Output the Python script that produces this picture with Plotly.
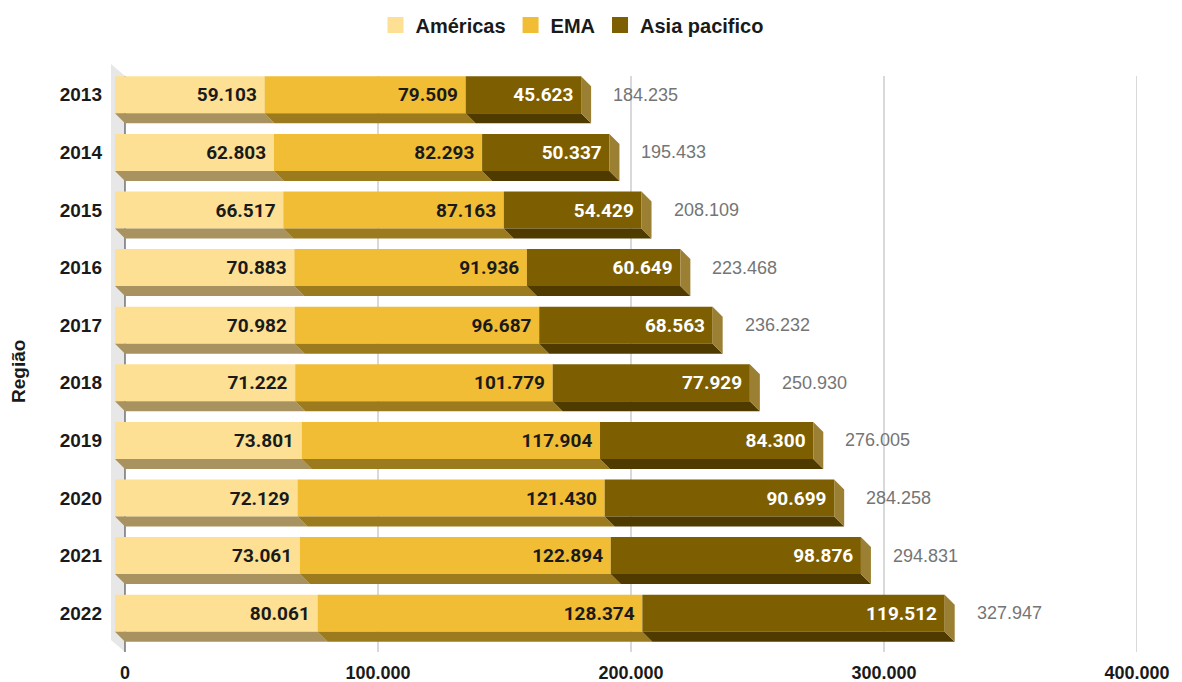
import plotly.graph_objects as go

# ---------------- data ----------------
years = ["2013", "2014", "2015", "2016", "2017", "2018", "2019", "2020", "2021", "2022"]
americas = [59103, 62803, 66517, 70883, 70982, 71222, 73801, 72129, 73061, 80061]
ema = [79509, 82293, 87163, 91936, 96687, 101779, 117904, 121430, 122894, 128374]
asia = [45623, 50337, 54429, 60649, 68563, 77929, 84300, 90699, 98876, 119512]
series_names = ["Américas", "EMA", "Asia pacifico"]
x_ticks = [0, 100000, 200000, 300000, 400000]
y_title = "Região"

# ---------------- style ----------------
front_colors = ["#FDE093", "#F0BD35", "#7D5E00"]
bottom_colors = ["#A8925F", "#9C7B1F", "#4F3B00"]
side_color = "#9B7F33"
label_colors = ["#1a1a1a", "#1a1a1a", "#ffffff"]

W, H = 1182, 682
PL, PR, PT, PB = 111, 1137, 64, 652          # plot area in pixels
X0PX = 125                                    # pixel of x = 0 (back plane)
XMAX = 400000
UX = XMAX / (PR - X0PX)                       # data units per pixel (x)
N = len(years)
PITCH = (PB - 76) / N                         # pixels per category
UY = 1 / PITCH                                # category units per pixel
DX, DY = 10 * UX, 10 * UY                     # 3D depth offset
HALF = 18.5 * UY                              # half bar thickness
ARIAL = "Liberation Sans, Arial, sans-serif"

def fmt(v):
    return f"{v:,}".replace(",", ".")

series = [americas, ema, asia]
idx = list(range(N))
starts = []
acc = [0] * N
for s in series:
    starts.append(list(acc))
    acc = [a + v for a, v in zip(acc, s)]
totals = acc

fig = go.Figure()

# depth faces (bottom of each segment, right side of last one)
for j, s in enumerate(series):
    px, py = [], []
    for i in idx:
        b, e = starts[j][i], starts[j][i] + s[i]
        cf, cb = i - DY, i
        px += [b - DX, e - DX, e, b, b - DX, None]
        py += [cf + HALF, cf + HALF, cb + HALF, cb + HALF, cf + HALF, None]
    fig.add_trace(go.Scatter(x=px, y=py, mode="lines", fill="toself",
                             fillcolor=bottom_colors[j], line=dict(width=0),
                             hoverinfo="skip", showlegend=False))
px, py = [], []
for i in idx:
    e = totals[i]
    cf, cb = i - DY, i
    px += [e - DX, e, e, e - DX, e - DX, None]
    py += [cf - HALF, cb - HALF, cb + HALF, cf + HALF, cf - HALF, None]
fig.add_trace(go.Scatter(x=px, y=py, mode="lines", fill="toself",
                         fillcolor=side_color, line=dict(width=0),
                         hoverinfo="skip", showlegend=False))

# front faces
for j, s in enumerate(series):
    fig.add_trace(go.Bar(
        name=series_names[j], orientation="h",
        y=[i - DY for i in idx], x=s,
        base=[st - DX for st in starts[j]],
        width=2 * HALF,
        marker=dict(color=front_colors[j], line=dict(width=0)),
        text=[fmt(v) + "\u00a0" for v in s], texttemplate="%{text}",
        textposition="inside", insidetextanchor="end", textangle=0,
        textfont=dict(family="Roboto", size=19, weight="bold", color=label_colors[j]),
        hoverinfo="skip", showlegend=False,
    ))

# legend entries (larger square swatches)
for j in range(len(series)):
    fig.add_trace(go.Scatter(
        x=[None], y=[None], mode="markers", name=series_names[j],
        marker=dict(symbol="square", size=16, color=front_colors[j], line=dict(width=0)),
        hoverinfo="skip",
    ))

# totals
for i in idx:
    fig.add_annotation(x=totals[i], y=i - DY, text=fmt(totals[i]), showarrow=False,
                       xanchor="left", yanchor="middle", xshift=20,
                       font=dict(family=ARIAL, size=18, color="#757575"))

# y axis title
fig.add_annotation(xref="paper", yref="paper", x=(18 - PL) / (PR - PL),
                   y=(PB - 372) / (PB - PT), text=y_title, textangle=-90,
                   showarrow=False, xanchor="center", yanchor="middle",
                   font=dict(family=ARIAL, size=19, weight="bold", color="#1a1a1a"))

shapes = []
# left wall
shapes.append(dict(type="path", layer="below", xref="x", yref="y",
                   path=f"M {-14*UX},{-0.5-12*UY} L 0,-0.5 L 0,{N-0.5} L {-14*UX},{N-0.5-12*UY} Z",
                   fillcolor="#e7e7e7", line=dict(width=0)))
for t in x_ticks:
    shapes.append(dict(type="line", layer="below", xref="x", yref="y",
                       x0=t, x1=t, y0=-0.5, y1=N - 0.5,
                       line=dict(color="#333333" if t == 0 else "#cccccc",
                                 width=1 if t == 0 else 1.5)))

fig.update_layout(
    width=W, height=H,
    margin=dict(l=PL, r=W - PR, t=PT, b=H - PB, pad=0, autoexpand=False),
    paper_bgcolor="white", plot_bgcolor="white",
    barmode="overlay", separators=",.", hovermode=False,
    shapes=shapes,
    showlegend=True,
    legend=dict(orientation="h", x=(572 - PL) / (PR - PL), xanchor="center",
                y=1 + (PT - 25) / (PB - PT), yanchor="middle",
                font=dict(family=ARIAL, size=20, weight="bold", color="#1a1a1a"),
                traceorder="normal", itemsizing="trace"),
    xaxis=dict(range=[-14 * UX, XMAX], tickvals=x_ticks, tickformat=",d",
               showgrid=False, zeroline=False, showline=False, ticks="",
               ticklabelstandoff=8, automargin=False,
               tickfont=dict(family=ARIAL, size=18, weight="bold", color="#1a1a1a")),
    yaxis=dict(range=[N - 0.5, -0.5 - 12 * UY], tickvals=[i - DY for i in idx],
               ticktext=years, showgrid=False, zeroline=False, showline=False,
               ticks="", ticklabelstandoff=8, automargin=False,
               tickfont=dict(family=ARIAL, size=19, weight="bold", color="#1a1a1a")),
)

fig.write_html("out.html", config={"displayModeBar": False},
               post_script="document.body.style.margin='0px';document.body.style.overflow='hidden';")
